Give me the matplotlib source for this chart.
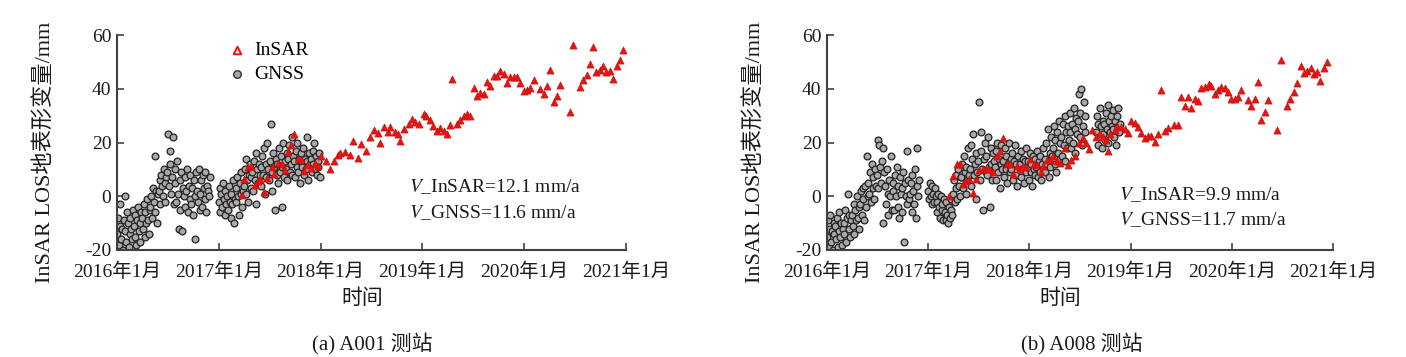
import numpy as np
import pandas as pd
import matplotlib
matplotlib.use("Agg")
import matplotlib.pyplot as plt

plt.rcParams['font.family'] = ['Liberation Serif', 'Noto Sans CJK SC']
plt.rcParams['mathtext.fontset'] = 'stix'
plt.rcParams['axes.unicode_minus'] = False

# ---------------- data ----------------
year_ticks = [2016, 2017, 2018, 2019, 2020, 2021]
year_labels = ['2016年1月', '2017年1月', '2018年1月', '2019年1月', '2020年1月', '2021年1月']

# InSAR (decimal year, mm) -- station A001
insar_a_t = [2017.226, 2017.249, 2017.285, 2017.315, 2017.357, 2017.383, 2017.406, 2017.445, 2017.478, 2017.521,
             2017.547, 2017.586, 2017.619, 2017.652, 2017.678, 2017.711, 2017.743, 2017.777, 2017.809, 2017.839,
             2017.871, 2017.905, 2017.947, 2017.970, 2018.003, 2018.052, 2018.094, 2018.127, 2018.170, 2018.193,
             2018.242, 2018.284, 2018.323, 2018.363, 2018.399, 2018.445, 2018.488, 2018.527, 2018.559, 2018.586,
             2018.618, 2018.658, 2018.684, 2018.734, 2018.756, 2018.783, 2018.822, 2018.864, 2018.898, 2018.930,
             2018.963, 2019.012, 2019.038, 2019.071, 2019.104, 2019.144, 2019.176, 2019.208, 2019.242, 2019.274,
             2019.291, 2019.340, 2019.373, 2019.405, 2019.439, 2019.471, 2019.503, 2019.537, 2019.569, 2019.602,
             2019.635, 2019.668, 2019.700, 2019.734, 2019.766, 2019.798, 2019.832, 2019.864, 2019.897, 2019.930,
             2019.963, 2019.995, 2020.028, 2020.061, 2020.093, 2020.159, 2020.192, 2020.225, 2020.258, 2020.290,
             2020.323, 2020.349, 2020.447, 2020.481, 2020.546, 2020.579, 2020.612, 2020.644, 2020.678, 2020.710,
             2020.742, 2020.776, 2020.808, 2020.841, 2020.874, 2020.907, 2020.939, 2020.972]
insar_a_v = [0.6, 6.4, 10.8, 11.1, 4.3, 5.5, 6.4, 1.6, 6.8, 10.8,
             8.3, 12.4, 12.0, 9.9, 16.5, 19.0, 23.3, 14.0, 14.0, 9.5,
             11.8, 10.6, 12.4, 11.1, 14.9, 13.0, 10.2, 13.0, 15.5, 16.1,
             16.5, 15.5, 20.5, 14.3, 19.6, 16.8, 22.0, 24.5, 23.6, 19.9,
             25.7, 24.0, 25.7, 24.0, 23.3, 20.7, 24.9, 27.0, 28.6, 27.8,
             26.7, 30.5, 29.8, 28.2, 26.1, 24.3, 25.5, 24.3, 23.3, 26.6,
             43.6, 27.0, 28.2, 29.8, 30.5, 29.8, 40.2, 37.3, 38.6, 37.9,
             42.6, 40.9, 44.9, 44.9, 46.5, 45.4, 42.3, 44.2, 44.2, 44.2,
             42.3, 39.0, 39.4, 40.2, 43.2, 39.8, 37.9, 41.1, 47.1, 35.1,
             37.2, 41.5, 31.3, 56.4, 40.5, 43.3, 45.2, 49.2, 55.4, 46.1,
             46.9, 48.3, 46.1, 46.7, 43.6, 48.3, 50.7, 54.5]

# InSAR (decimal year, mm) -- station A008
insar_b_t = [2017.207, 2017.241, 2017.280, 2017.313, 2017.340, 2017.372, 2017.405, 2017.438, 2017.471, 2017.503,
             2017.537, 2017.570, 2017.602, 2017.636, 2017.675, 2017.708, 2017.740, 2017.774, 2017.807, 2017.839,
             2017.873, 2017.905, 2017.938, 2017.971, 2018.004, 2018.043, 2018.076, 2018.110, 2018.135, 2018.169,
             2018.201, 2018.234, 2018.273, 2018.307, 2018.349, 2018.382, 2018.416, 2018.448, 2018.491, 2018.530,
             2018.564, 2018.589, 2018.623, 2018.655, 2018.695, 2018.728, 2018.754, 2018.781, 2018.801, 2018.843,
             2018.870, 2018.909, 2018.942, 2018.974, 2019.008, 2019.040, 2019.073, 2019.107, 2019.139, 2019.172,
             2019.205, 2019.238, 2019.271, 2019.304, 2019.337, 2019.369, 2019.428, 2019.468, 2019.502, 2019.534,
             2019.568, 2019.600, 2019.633, 2019.665, 2019.699, 2019.731, 2019.774, 2019.798, 2019.830, 2019.863,
             2019.896, 2019.929, 2019.962, 2019.995, 2020.028, 2020.060, 2020.094, 2020.159, 2020.193, 2020.225,
             2020.258, 2020.291, 2020.324, 2020.358, 2020.449, 2020.489, 2020.548, 2020.580, 2020.613, 2020.647,
             2020.679, 2020.712, 2020.745, 2020.778, 2020.811, 2020.844, 2020.876, 2020.910, 2020.943]
insar_b_v = [0.2, 7.7, 12.1, 12.1, 4.7, 5.5, 6.4, 1.2, 6.4, 9.9,
             10.3, 10.3, 10.3, 8.9, 14.9, 16.7, 21.5, 12.1, 12.1, 8.4,
             11.1, 10.3, 11.1, 10.8, 14.0, 12.1, 11.8, 9.0, 11.4, 13.4,
             13.6, 14.9, 13.0, 12.4, 18.0, 11.8, 13.6, 14.9, 19.9, 21.8,
             19.9, 17.4, 24.6, 22.1, 23.3, 22.2, 21.1, 17.0, 23.0, 24.6,
             26.1, 25.8, 24.9, 23.6, 28.0, 27.4, 25.9, 23.6, 21.5, 22.6,
             22.4, 20.2, 23.0, 39.6, 24.3, 25.5, 26.4, 26.4, 37.1, 33.5,
             37.1, 33.0, 36.3, 35.5, 40.1, 40.7, 41.9, 41.1, 37.9, 39.6,
             40.5, 40.1, 38.8, 36.1, 36.3, 37.1, 39.6, 35.7, 33.6, 36.1,
             42.5, 28.4, 31.3, 35.7, 24.6, 50.7, 33.6, 36.3, 38.8, 42.1,
             48.3, 45.7, 46.7, 47.6, 45.4, 46.1, 43.0, 47.6, 49.8]

# GNSS daily solutions, sampled every 3 days (mm); segments: (start date, values)
gnss_step_days = 3
gnss_a_segments = [
    ('2016-01-01',
     [-14, -8, -18, -11, -3, -16, -12, -20, -9, 0,
      -13, -17, -6, -10, -19, -14, -8, -12, -16, -5,
      -11, -15, -7, -18, -9, -4, -13, -10, -17, -6,
      -8, -12, -3, -15, -6, -10, -1, -9, -14, -5,
      -4, 0, -8, 3, -2, 15, -6, 2, -10, 1,
      2, 6, -3, 8, 4, 0, 10, -2, 5, 7,
      9, 23, 4, 17, 12, 1, 7, 22, -3, 10,
      5, -2, 13, 1, -12, 6, -5, 9, -13, 3,
      0, -4, 7, 2, 10, -6, 4, -1, 8, -3,
      3, -7, 6, 0, -16, 9, 2, -2, 10, -5,
      1, 6, -4, 8, 3, -1, 9, -6, 4, 2, 0, 7]),
    ('2017-01-01',
     [-2, 3, -6, 1, -4, 5, -1, -7, 2, -3,
      0, -5, 4, -2, -8, 1, -3, 6, -10, -1,
      3, -2, 7, 0, -7, 5, 1, 9, -4, 2,
      4, 10, 1, 14, 6, -2, 8, 12, 3, 7,
      9, 2, 13, 6, 16, -3, 10, 5, 12, 8,
      11, 4, 15, 8, 18, 1, 12, 7, 20, 10,
      6, 13, 27, 9, 2, 16, 11, -5, 14, 8,
      12, 5, 18, 9, 15, -4, 11, 20, 7, 13,
      10, 16, 6, 14, 19, 9, 12, 22, 8, 15,
      13, 7, 17, 11, 20, 9, 14, 5, 16, 12,
      11, 18, 8, 14, 10, 22, 13, 6, 16, 12,
      14, 9, 17, 12, 20, 10, 15, 8, 13, 11, 16, 7]),
]
gnss_b_segments = [
    ('2016-01-01',
     [-15, -9, -19, -12, -7, -17, -13, -20, -10, -14,
      -11, -16, -8, -19, -13, -6, -15, -10, -18, -12,
      -10, -14, -5, -17, -8, 1, -12, -7, -15, -9,
      -7, -11, -3, -14, -5, -9, 0, -8, -12, -4,
      -3, 2, -7, 3, -1, -9, 4, -4, 15, 0,
      5, 1, 9, -2, 12, 3, 7, -1, 10, 4,
      8, 21, 3, 19, 11, 5, 13, 18, -10, 9,
      4, -3, 10, 1, -7, 6, 0, 15, -5, 5,
      2, -5, 8, 0, 11, -4, 4, -8, 7, 1,
      3, -6, 9, -17, 5, 0, -3, 17, 6, -1,
      1, 5, -6, 8, 2, -3, 10, -8, 4, 18, 0, 6]),
    ('2017-01-01',
     [2, -1, 5, 0, -3, 4, 1, -2, 3, 0,
      -2, -6, 1, -4, -8, 0, -5, -3, -9, -1,
      -6, -9, -2, -7, -10, -4, -8, -1, -5, -7,
      1, 6, -2, 8, 3, -1, 10, 4, 0, 7,
      7, 12, 3, 15, 9, 1, 11, 6, 18, 8,
      10, 19, 4, 14, 23, 8, 12, -1, 16, 9,
      13, 35, 6, 17, 24, 10, -5, 14, 20, 9,
      15, 8, 22, 11, -4, 18, 12, 6, 16, 13,
      11, 17, 6, 20, 9, 14, 3, 12, 19, 10,
      13, 7, 18, 10, 15, 5, 12, 20, 9, 14,
      10, 16, 6, 13, 19, 8, 12, 4, 15, 11,
      12, 7, 17, 10, 14, 5, 13, 18, 9, 11,
      13, 6, 16, 9, 12, 4, 15, 10, 8, 14,
      11, 17, 7, 13, 9, 15, 6, 12, 18, 10,
      14, 9, 20, 12, 25, 7, 16, 11, 22, 15,
      18, 26, 12, 21, 9, 24, 16, 28, 14, 20,
      22, 15, 27, 19, 30, 13, 24, 18, 26, 21,
      24, 31, 18, 27, 20, 33, 25, 16, 29, 23,
      28, 38, 22, 31, 40, 19, 26, 35, 24, 30]),
    ('2018-08-29',
     [24, 30, 19, 27, 22, 33, 26, 18, 28, 23,
      27, 21, 31, 25, 34, 20, 28, 24, 30, 26,
      25, 32, 22, 28, 19, 30, 26, 33, 24, 27]),
]

vel_texts_a = [r'$\mathit{V}$_InSAR=12.1 mm/a', r'$\mathit{V}$_GNSS=11.6 mm/a']
vel_texts_b = [r'$\mathit{V}$_InSAR=9.9 mm/a', r'$\mathit{V}$_GNSS=11.7 mm/a']
captions = ['(a) A001 测站', '(b) A008 测站']


def to_decimal_year(dates):
    dates = pd.DatetimeIndex(dates)
    start = pd.to_datetime(dates.year.astype(str) + '-01-01')
    length = np.where(dates.is_leap_year, 366.0, 365.0)
    return dates.year + (dates - start).days / length


def gnss_series(segments):
    ts, vs = [], []
    for start, vals in segments:
        d = pd.date_range(start, periods=len(vals), freq=f'{gnss_step_days}D')
        ts.extend(to_decimal_year(d))
        vs.extend(vals)
    return np.array(ts), np.array(vs)


W, H = 1406, 357
fig = plt.figure(figsize=(W / 100, H / 100), dpi=100)

panels = [
    dict(ax_px=(117, 626), gnss=gnss_a_segments, it=insar_a_t, iv=insar_a_v,
         vel=vel_texts_a, vel_xy=(409, 187, 213), cap=captions[0], cap_x=372, ylab_x=45,
         legend=True, xlab_x=362),
    dict(ax_px=(827, 1333), gnss=gnss_b_segments, it=insar_b_t, iv=insar_b_v,
         vel=vel_texts_b, vel_xy=(1119, 195, 220), cap=captions[1], cap_x=1082, ylab_x=755,
         legend=False, xlab_x=1060),
]

top_px, bot_px = 35, 250
spine_col = '#404040'
for p in panels:
    x0, x1 = p['ax_px']
    ax = fig.add_axes([x0 / W, 1 - bot_px / H, (x1 - x0) / W, (bot_px - top_px) / H])
    gt, gv = gnss_series(p['gnss'])
    ax.scatter(gt, gv, s=24, marker='o', facecolor='#a8a8a8', edgecolor='#202020',
               linewidths=0.9, zorder=2, label='GNSS')
    ax.scatter(p['it'], p['iv'], s=26, marker='^', facecolor='#e8140f', edgecolor='#c81010',
               linewidths=0.5, zorder=3, label='InSAR')
    ax.set_xlim(2016, 2021)
    ax.set_ylim(-20, 60)
    ax.set_xticks(year_ticks)
    ax.set_xticklabels(year_labels)
    ax.set_yticks([-20, 0, 20, 40, 60])
    for s in ['top', 'right']:
        ax.spines[s].set_visible(False)
    for s in ['left', 'bottom']:
        ax.spines[s].set_color(spine_col)
        ax.spines[s].set_linewidth(1.5)
    ax.tick_params(direction='in', length=5, width=1.2, color=spine_col,
                   labelsize=14, labelcolor='#1a1a1a', pad=4)
    ax.tick_params(axis='x', pad=9)
    if p['legend']:
        h_ins = ax.scatter([], [], s=30, marker='^', facecolor='white', edgecolor='#e8140f',
                           linewidths=1.4)
        h_gn = ax.scatter([], [], s=30, marker='o', facecolor='#a8a8a8', edgecolor='#202020',
                          linewidths=0.9)
        ax.legend([h_ins, h_gn], ['InSAR', 'GNSS'], loc='upper left',
                  bbox_to_anchor=(0.22, 0.97), frameon=False, fontsize=14,
                  handlelength=0.8, handletextpad=0.5, labelspacing=0.35, borderpad=0,
                  borderaxespad=0)
    vx, vy1, vy2 = p['vel_xy']
    for txt, yy in zip(p['vel'], (vy1, vy2)):
        fig.text(vx / W, 1 - yy / H, txt, fontsize=14, ha='left', va='center', color='#1a1a1a')
    fig.text(p['ylab_x'] / W, 1 - 152 / H, 'InSAR LOS地表形变量/mm', rotation=90,
             fontsize=16, ha='center', va='center', color='#1a1a1a')
    fig.text(p['xlab_x'] / W, 1 - 299 / H, '时间', fontsize=15, ha='center', va='center',
             color='#1a1a1a')
    fig.text(p['cap_x'] / W, 1 - 343 / H, p['cap'], fontsize=15, ha='center', va='center',
             color='#1a1a1a')

fig.savefig('out.png', dpi=100)
